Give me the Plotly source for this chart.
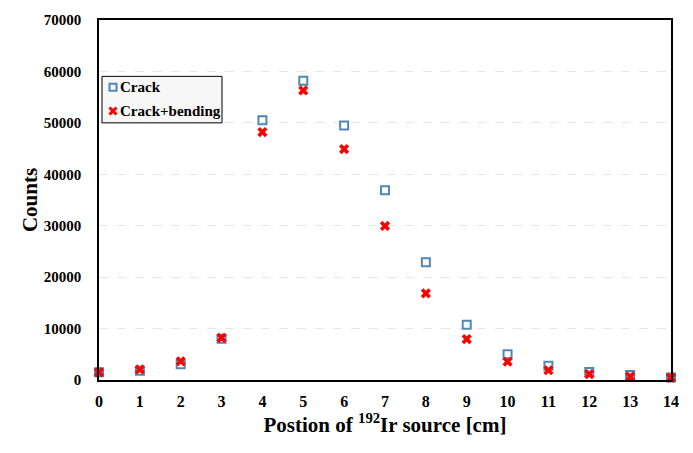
import plotly.graph_objects as go

positions = list(range(15))
crack = [1500, 1800, 3050, 8000, 50500, 58200, 49500, 36900, 22900, 10750, 5000, 2750, 1550, 950, 500]
crack_bending = [1500, 2050, 3650, 8200, 48200, 56300, 44900, 29950, 16850, 7950, 3550, 1900, 1150, 650, 450]
series_names = ["Crack", "Crack+bending"]
crack_color = "#4f88b8"
bend_color = "#ff0000"

font_fam = "Liberation Serif, Times New Roman, serif"

fig = go.Figure()
fig.add_trace(go.Scatter(
    x=positions, y=crack, mode="markers", name=series_names[0],
    marker=dict(symbol="square-open", size=8, color=crack_color, line=dict(width=2, color=crack_color)),
    cliponaxis=False, showlegend=False,
))
fig.add_trace(go.Scatter(
    x=positions, y=crack_bending, mode="markers", name=series_names[1],
    marker=dict(symbol="x", size=9, color=bend_color, line=dict(width=0)),
    cliponaxis=False, showlegend=False,
))

# Custom legend (plot area: x 99..671 px, y 16..380 px)
L, R, T, B = 99, 671, 16, 380
def px(x):
    return (x - L) / (R - L)
def py(y):
    return (B - y) / (B - T)

shapes = [
    dict(type="rect", xref="paper", yref="paper", x0=px(102), x1=px(222), y0=py(120), y1=py(73),
         fillcolor="#f7f7f7", line=dict(color="black", width=1), layer="above"),
    dict(type="rect", xref="paper", yref="paper", x0=px(109.5), x1=px(116.5), y0=py(87.5), y1=py(80.5),
         fillcolor="rgba(0,0,0,0)", line=dict(color=crack_color, width=2), layer="above"),
    dict(type="line", xref="paper", yref="paper", x0=px(109.5), x1=px(116.5), y0=py(104.5), y1=py(111.5),
         line=dict(color=bend_color, width=3), layer="above"),
    dict(type="line", xref="paper", yref="paper", x0=px(109.5), x1=px(116.5), y0=py(111.5), y1=py(104.5),
         line=dict(color=bend_color, width=3), layer="above"),
]
annotations = [
    dict(xref="paper", yref="paper", x=px(118), y=py(84), xanchor="left", yanchor="middle",
         text=series_names[0], showarrow=False,
         font=dict(family=font_fam, size=15, color="black", weight="bold")),
    dict(xref="paper", yref="paper", x=px(118), y=py(108), xanchor="left", yanchor="middle",
         text=series_names[1], showarrow=False,
         font=dict(family=font_fam, size=15, color="black", weight="bold")),
]

fig.update_layout(
    width=693, height=453,
    margin=dict(l=L, r=693 - R, t=T, b=453 - B),
    paper_bgcolor="white", plot_bgcolor="white",
    font=dict(family=font_fam, color="black", size=14),
    showlegend=False,
    shapes=shapes,
    annotations=annotations,
    xaxis=dict(
        range=[0, 14], tickmode="array", tickvals=positions,
        ticktext=[str(p) for p in positions],
        showgrid=False, zeroline=False,
        showline=True, linecolor="black", linewidth=1.5, mirror=True,
        ticks="", ticklabelstandoff=6,
        tickfont=dict(family=font_fam, size=16, weight="bold"),
        title=dict(text="Postion of <sup>192</sup>Ir source [cm]",
                   font=dict(family=font_fam, size=21, weight="bold"), standoff=6),
    ),
    yaxis=dict(
        range=[0, 70000], tickmode="array",
        tickvals=[0, 10000, 20000, 30000, 40000, 50000, 60000, 70000],
        ticktext=["0", "10000", "20000", "30000", "40000", "50000", "60000", "70000"],
        showgrid=True, gridcolor="#e6e6e6", griddash="dash", gridwidth=1,
        zeroline=False,
        showline=True, linecolor="black", linewidth=1.5, mirror=True,
        ticks="", ticklabelstandoff=13,
        tickfont=dict(family=font_fam, size=15, weight="bold"),
        title=dict(text="Counts", font=dict(family=font_fam, size=21, weight="bold"), standoff=0),
    ),
)

fig.write_html("out.html")
